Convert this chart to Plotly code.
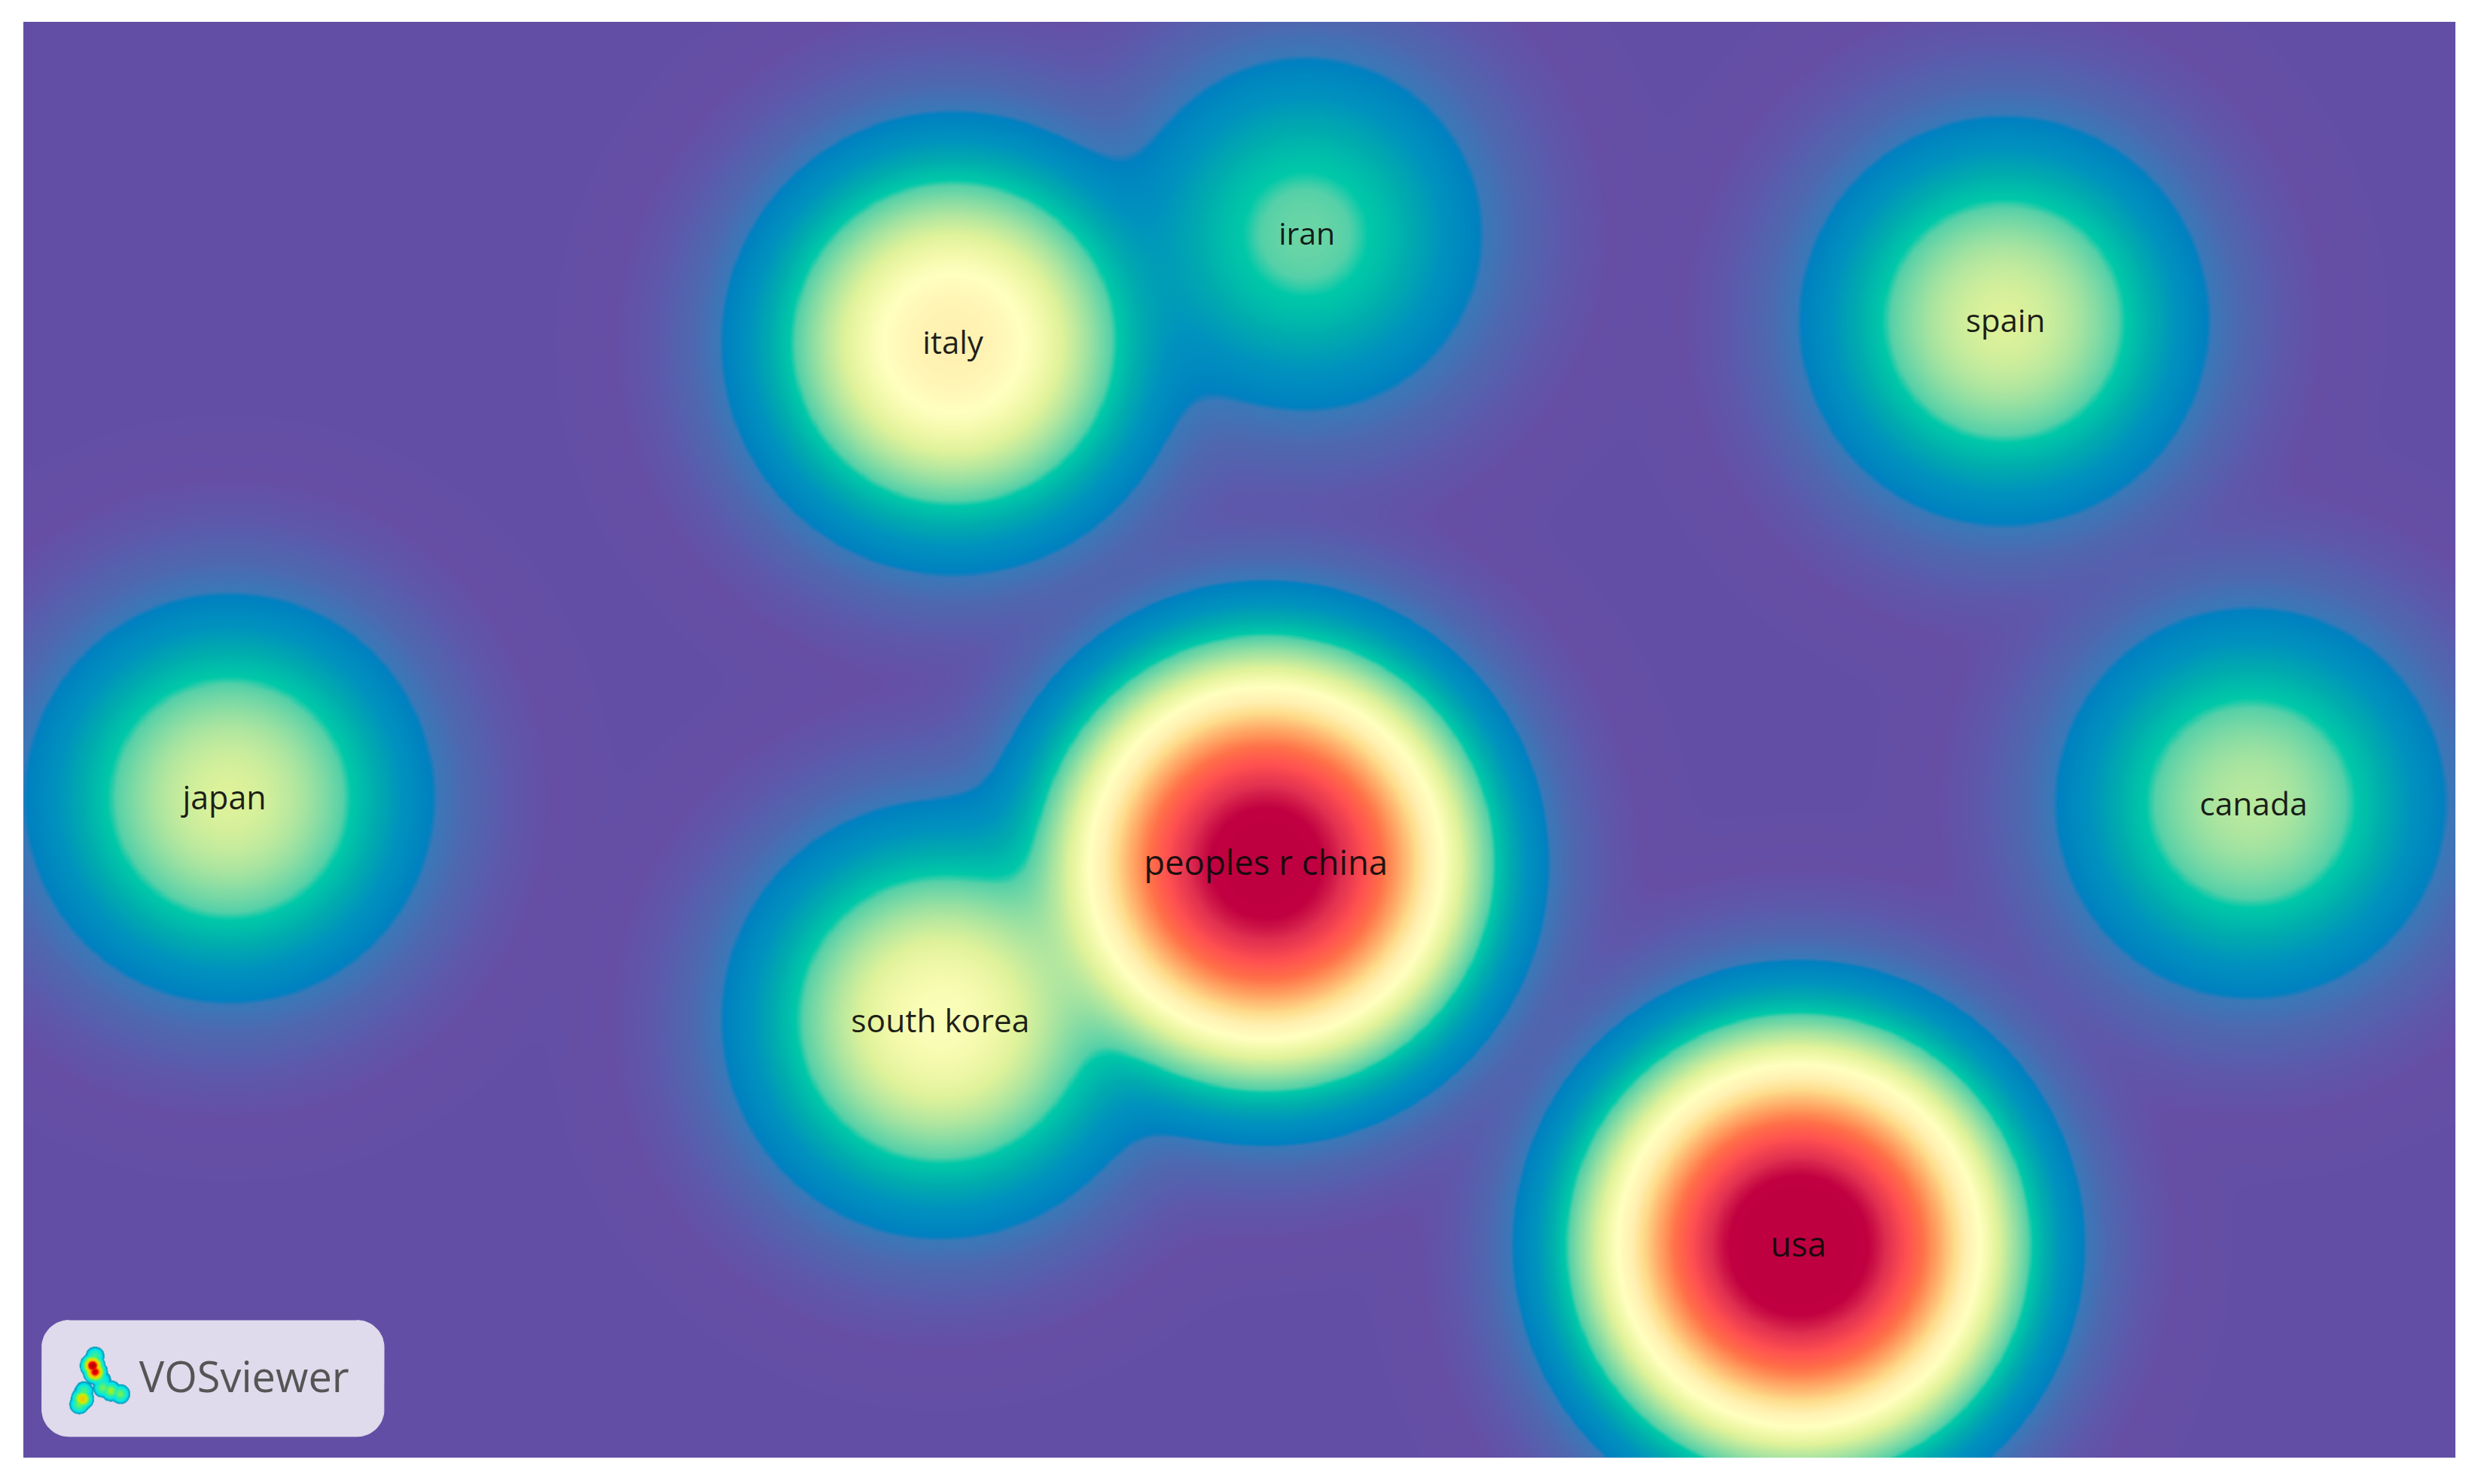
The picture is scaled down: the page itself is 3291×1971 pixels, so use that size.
import numpy as np
import plotly.graph_objects as go

# Countries (map units = 1/2.0989 of a reference pixel)
countries = ["peoples r china", "usa", "italy", "south korea", "spain", "japan", "canada", "iran"]
node_x = [801, 1138, 603, 595, 1268, 145, 1424, 826]
node_y = [546, 788, 217, 645, 203, 505, 508, 148]
label_x = [801, 1138, 603, 595, 1269, 142, 1426, 827]
label_y = [548, 790, 219, 648, 205, 507, 511, 150]
label_size = [45.5, 45, 42, 42.5, 42, 43, 42.5, 41]
# Reach of each node: distance at which its density falls to the blue contour
node_reach = [180, 182, 148, 140, 131, 131, 125, 113]
KERNEL = 5000.0

# Colour scale for density level (kernel * ln density)
tone_levels = [-45000, -38500, -24500, -13800, -5000, -100, 800, 5300, 8400, 11200, 12000, 15000,
               17200, 18500, 20000, 21900, 23400, 25500, 27000, 28500, 30000, 31200, 33200]
tone_colors = ["#624FA5", "#634FA5", "#664EA5", "#5D58AB", "#4E68B0", "#3A78B8", "#0080C0", "#0092BE",
               "#00AAAE", "#00C8A8", "#55D0A8", "#A8E4A0", "#DFF29A", "#F0F8A8", "#FFFFBF", "#FFF0B0",
               "#FEDC8B", "#FFA060", "#FF7048", "#FF5050", "#E03050", "#C00040", "#BE0040"]

# Logo blobs
logo_x = [60, 58.5, 60, 62, 53, 52, 50, 65, 65, 70, 76]
logo_y = [858, 864, 868, 871, 880, 885, 888.5, 873, 878, 880, 882]
logo_w = [0.45, 1.0, 0.95, 0.5, 0.45, 0.72, 0.5, 0.35, 0.5, 0.55, 0.5]
logo_levels = [0.0, 0.17, 0.18, 0.28, 0.42, 0.6, 0.75, 0.88, 1.0]
logo_colors = ["rgba(0,140,170,0)", "rgba(0,140,170,0)", "#0090B0", "#00E5F0", "#30F0A0",
               "#C8F000", "#FFC000", "#F00000", "#B00000"]

X0, X1, Y0, Y1 = 14.77, 1553.7, 13.8, 922.4
xs = np.arange(X0, X1 + 1, 1.0)
ys = np.arange(Y0, Y1 + 1, 1.0)
gx, gy = np.meshgrid(xs, ys)
dens = np.zeros_like(gx)
for x, y, r in zip(node_x, node_y, node_reach):
    dens += np.exp((r ** 2 - (gx - x) ** 2 - (gy - y) ** 2) / KERNEL)
z = (KERNEL * np.log(dens + 1e-12)).astype("float32")

zmin, zmax = tone_levels[0], tone_levels[-1]
scale = [[(v - zmin) / (zmax - zmin), c] for v, c in zip(tone_levels, tone_colors)]

fig = go.Figure()
fig.add_trace(go.Heatmap(x=xs, y=ys, z=z, zmin=zmin, zmax=zmax, colorscale=scale,
                         zsmooth="best", showscale=False, hoverinfo="skip"))

# Logo panel
bx0, bx1, by0, by1, rad = 26.5, 243, 835.5, 909, 17
t = np.linspace(0, np.pi / 2, 16)
px = np.concatenate([bx1 - rad + rad * np.sin(t), bx1 - rad + rad * np.cos(t),
                     bx0 + rad - rad * np.sin(t), bx0 + rad - rad * np.cos(t)])
py = np.concatenate([by0 + rad - rad * np.cos(t), by1 - rad + rad * np.sin(t),
                     by1 - rad + rad * np.cos(t), by0 + rad - rad * np.sin(t)])
fig.add_trace(go.Scatter(x=px, y=py, mode="lines", fill="toself", fillcolor="#DFDBEC",
                         line=dict(color="#DFDBEC", width=1), hoverinfo="skip", showlegend=False))

fig.add_trace(go.Scatter(x=label_x, y=label_y, text=countries, mode="text", textposition="middle center",
                         textfont=dict(family="Open Sans", size=label_size, color="rgba(10,10,10,0.92)"),
                         hoverinfo="skip", showlegend=False))
fig.add_trace(go.Scatter(x=[154.5], y=[874.5], text=["VOSviewer"], mode="text", textposition="middle center",
                         textfont=dict(family="Open Sans", size=56, color="#555555"),
                         hoverinfo="skip", showlegend=False))

lx = np.arange(40, 88, 0.25)
ly = np.arange(848, 898, 0.25)
lgx, lgy = np.meshgrid(lx, ly)
lz = np.zeros_like(lgx)
for x, y, w in zip(logo_x, logo_y, logo_w):
    lz = np.maximum(lz, w * np.exp(-((lgx - x) ** 2 + (lgy - y) ** 2) / 38.0))
fig.add_trace(go.Heatmap(x=lx, y=ly, z=lz, zmin=0, zmax=1, xaxis="x2", yaxis="y2", zsmooth="best",
                         colorscale=[[a, c] for a, c in zip(logo_levels, logo_colors)],
                         showscale=False, hoverinfo="skip"))

axis = dict(visible=False, showgrid=False, zeroline=False)
fig.update_layout(
    width=3291, height=1971, margin=dict(l=31, r=30, t=29, b=35),
    paper_bgcolor="white", plot_bgcolor="#624FA5", showlegend=False,
    xaxis=dict(range=[X0, X1], **axis),
    yaxis=dict(range=[Y1, Y0], **axis),
    xaxis2=dict(range=[X0, X1], overlaying="x", **axis),
    yaxis2=dict(range=[Y1, Y0], overlaying="y", **axis),
)
fig.write_html("out.html", config={"displayModeBar": False},
               post_script="document.body.style.margin='0';document.body.style.overflow='hidden';")
